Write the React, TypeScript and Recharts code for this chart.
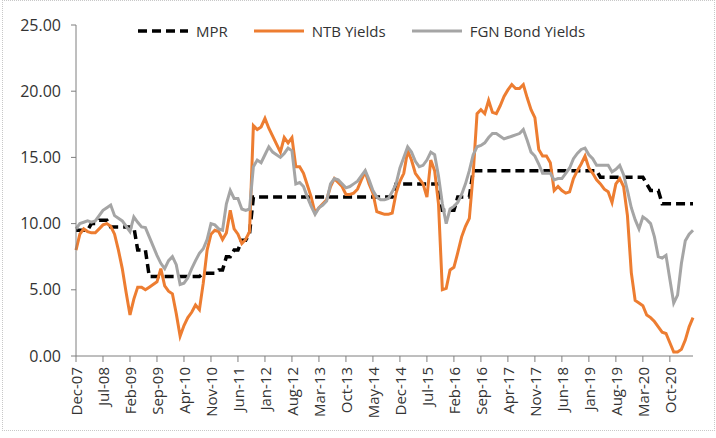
import { CartesianGrid, Legend, Line, LineChart, XAxis, YAxis } from "recharts";

const MONTHS = ["Jan", "Feb", "Mar", "Apr", "May", "Jun", "Jul", "Aug", "Sep", "Oct", "Nov", "Dec"];

// Dec-07 .. Apr-21, one label per month
const categories: string[] = [];
for (let i = 0; i < 161; i++) {
  const m = (11 + i) % 12;
  const y = 7 + Math.floor((11 + i) / 12);
  categories.push(`${MONTHS[m]}-${String(y).padStart(2, "0")}`);
}

const mpr = [
  9.5, 9.5, 9.5, 9.5, 10.0, 10.0, 10.25, 10.25, 10.25, 9.75,
  9.75, 9.75, 9.75, 9.75, 9.75, 9.75, 8.0, 8.0, 8.0, 6.0,
  6.0, 6.0, 6.0, 6.0, 6.0, 6.0, 6.0, 6.0, 6.0, 6.0,
  6.0, 6.0, 6.0, 6.25, 6.25, 6.25, 6.25, 6.5, 6.5, 7.5,
  7.5, 8.0, 8.0, 8.75, 8.75, 9.25, 12, 12, 12, 12,
  12, 12, 12, 12, 12, 12, 12, 12, 12, 12,
  12, 12, 12, 12, 12, 12, 12, 12, 12, 12,
  12, 12, 12, 12, 12, 12, 12, 12, 12, 12,
  12, 12, 12, 13, 13, 13, 13, 13, 13, 13,
  13, 13, 13, 13, 13, 11, 11, 11, 11, 12,
  12, 12, 12, 14, 14, 14, 14, 14, 14, 14,
  14, 14, 14, 14, 14, 14, 14, 14, 14, 14,
  14, 14, 14, 14, 14, 14, 14, 14, 14, 14,
  14, 14, 14, 14, 14, 14, 13.5, 13.5, 13.5, 13.5,
  13.5, 13.5, 13.5, 13.5, 13.5, 13.5, 13.5, 13.5, 13.0, 12.5,
  12.5, 12.5, 11.5, 11.5, 11.5, 11.5, 11.5, 11.5, 11.5, 11.5,
  11.5,
];

const ntb = [
  8.0, 9.2, 9.6, 9.4, 9.3, 9.3, 9.6, 9.9, 10.0, 9.8,
  9.2, 8.0, 6.6, 4.8, 3.1, 4.3, 5.2, 5.2, 5.0, 5.2,
  5.4, 5.6, 6.6, 5.3, 4.9, 4.7, 3.2, 1.5, 2.3, 2.9,
  3.3, 3.85, 3.5, 5.5, 8.0, 9.2, 9.5, 9.4, 8.8, 9.3,
  11.0, 9.6, 9.2, 8.5, 8.8, 9.4, 17.4, 17.1, 17.3, 17.95,
  17.2, 16.6, 16.0, 15.4, 16.5, 16.1, 16.5, 14.3, 14.3, 13.8,
  12.9, 12.0, 10.8, 11.2, 11.5, 11.8, 12.8, 13.4, 13.1, 12.8,
  12.2, 12.2, 12.3, 12.6, 13.3, 13.9, 13.0, 12.3, 10.9, 10.8,
  10.7, 10.7, 10.8, 12.3, 13.2, 13.8, 15.5, 14.8, 13.8, 13.4,
  13.0, 12.0, 14.8, 14.0, 11.5, 5.0, 5.1, 6.5, 6.7, 7.8,
  9.0, 9.8, 10.4, 13.8, 18.3, 18.6, 18.3, 19.3, 18.4, 18.3,
  18.9, 19.6, 20.1, 20.5, 20.2, 20.2, 20.5, 19.5, 18.6, 18.0,
  15.6, 15.1, 15.1, 14.6, 12.5, 12.8, 12.5, 12.3, 12.4, 13.4,
  14.0, 14.5, 15.1, 14.2, 13.8, 13.3, 13.0, 12.6, 12.4, 11.6,
  13.0, 13.4, 12.8, 10.6, 6.3, 4.2, 4.0, 3.8, 3.1, 2.9,
  2.6, 2.2, 1.8, 1.7, 1.0, 0.3, 0.3, 0.5, 1.2, 2.2,
  2.9,
];

const fgn = [
  9.6, 10.0, 10.1, 10.2, 10.1, 10.2, 10.6, 11.0, 11.2, 11.4,
  10.6, 10.4, 10.2, 9.8, 9.4, 10.5, 10.1, 9.75, 9.7, 9.0,
  8.3, 7.6, 7.0, 6.6, 7.2, 7.5, 6.9, 5.4, 5.5, 5.9,
  6.6, 7.2, 7.75, 8.1, 8.8, 10.0, 9.9, 9.6, 9.5, 11.5,
  12.5, 11.9, 11.9, 11.1, 11.0, 11.1, 14.3, 14.8, 14.6, 15.2,
  15.8, 15.4, 15.2, 15.0, 15.3, 15.7, 15.5, 13.0, 13.1, 12.8,
  12.0, 11.3, 10.7, 11.2, 11.4, 11.7, 13.0, 13.4, 13.3, 13.0,
  12.7, 12.8, 13.0, 13.2, 13.6, 14.0, 13.3, 12.5, 12.0, 11.8,
  11.8, 11.9, 12.4, 13.0, 14.2, 15.0, 15.8, 15.4, 14.7, 14.3,
  14.4, 14.8, 15.4, 15.2, 13.6, 11.5, 10.0, 11.1, 11.3, 11.6,
  12.2, 13.0, 14.0, 15.2, 15.8, 15.9, 16.1, 16.5, 16.8, 16.8,
  16.6, 16.4, 16.5, 16.6, 16.7, 16.8, 17.1, 16.3, 15.4, 15.1,
  14.5, 13.8, 13.8, 13.8, 13.3, 13.4, 13.4, 13.8, 14.2, 14.9,
  15.3, 15.6, 15.7, 15.2, 14.9, 14.4, 14.4, 14.4, 14.4, 13.9,
  14.1, 14.4, 13.7, 12.5, 11.2, 10.3, 9.6, 10.5, 10.3, 10.0,
  9.0, 7.5, 7.4, 7.6, 5.8, 4.0, 4.6, 7.0, 8.7, 9.2,
  9.5,
];

const yTicks = [0, 5, 10, 15, 20, 25];

const series = [
  { key: "mpr", name: "MPR", color: "#000000", width: 3.5, dash: "9 5" },
  { key: "ntb", name: "NTB Yields", color: "#ED7D31", width: 3, dash: undefined },
  { key: "fgn", name: "FGN Bond Yields", color: "#A5A5A5", width: 3, dash: undefined },
];

const data = categories.map((label, i) => ({
  label,
  mpr: mpr[i],
  ntb: ntb[i],
  fgn: fgn[i],
}));

const FONT = "'Open Sans', sans-serif";
const TEXT = "#333333";
const AXIS = "#7f7f7f";

function MonthTick(props: any) {
  const { x, y, payload } = props;
  return (
    <text
      x={x}
      y={y + 3}
      transform={`rotate(-90 ${x} ${y + 3})`}
      textAnchor="end"
      dominantBaseline="central"
      fill={TEXT}
      fontSize={15}
      fontFamily={FONT}
    >
      {payload.value}
    </text>
  );
}

function ChartLegend() {
  return (
    <div style={{ display: "flex", alignItems: "center", fontFamily: FONT, fontSize: 15, color: TEXT }}>
      {series.map((s) => (
        <div key={s.key} style={{ display: "flex", alignItems: "center", marginRight: 26 }}>
          <svg width={50} height={10} style={{ marginRight: 8 }}>
            <line
              x1={0}
              y1={5}
              x2={50}
              y2={5}
              stroke={s.color}
              strokeWidth={s.width}
              strokeDasharray={s.dash}
            />
          </svg>
          <span>{s.name}</span>
        </div>
      ))}
    </div>
  );
}

export default function App() {
  return (
    <div style={{ position: "relative", width: 716, height: 438 }}>
      <style>{"body{margin:0}"}</style>
      <div
        style={{
          position: "absolute",
          left: 2,
          top: 0,
          width: 711,
          height: 429,
          border: "1px dotted #c8c8c8",
          pointerEvents: "none",
        }}
      />
      <LineChart
        width={716}
        height={438}
        data={data}
        margin={{ top: 25, right: 23, left: 0, bottom: 0 }}
      >
        <CartesianGrid stroke="none" />
        <XAxis
          dataKey="label"
          interval={6}
          height={82}
          tick={<MonthTick />}
          tickSize={6}
          tickMargin={2}
          stroke={AXIS}
          tickLine={{ stroke: AXIS }}
        />
        <YAxis
          domain={[0, 25]}
          ticks={yTicks}
          width={76}
          tickFormatter={(v) => v.toFixed(2)}
          tickSize={5}
          tickMargin={10}
          stroke={AXIS}
          tick={{ fill: TEXT, fontSize: 16, fontFamily: FONT }}
          allowDataOverflow
        />
        <Legend
          layout="horizontal"
          verticalAlign="middle"
          align="center"
          wrapperStyle={{ top: 21, left: 138, width: 560 }}
          content={<ChartLegend />}
        />
        {series.map((s) => (
          <Line
            key={s.key}
            type="linear"
            dataKey={s.key}
            name={s.name}
            stroke={s.color}
            strokeWidth={s.width}
            strokeDasharray={s.dash}
            dot={false}
            activeDot={false}
            isAnimationActive={false}
          />
        ))}
      </LineChart>
    </div>
  );
}
